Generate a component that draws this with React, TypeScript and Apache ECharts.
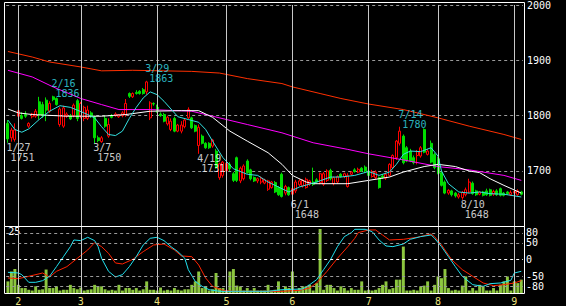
import React, { useEffect, useRef } from 'react';
import * as echarts from 'echarts';

// Trading days per month (2022), Jan..Sep
const months = [1, 2, 3, 4, 5, 6, 7, 8, 9];
const monthDays: number[][] = [
  [27, 28, 31],
  [1, 2, 3, 4, 7, 8, 9, 10, 14, 15, 16, 17, 18, 21, 22, 24, 25, 28],
  [1, 2, 3, 4, 7, 8, 9, 10, 11, 14, 15, 16, 17, 18, 22, 23, 24, 25, 28, 29, 30, 31],
  [1, 4, 5, 6, 7, 8, 11, 12, 13, 14, 15, 18, 19, 20, 21, 22, 25, 26, 27, 28],
  [2, 6, 9, 10, 11, 12, 13, 16, 17, 18, 19, 20, 23, 24, 25, 26, 27, 30, 31],
  [1, 2, 3, 6, 7, 8, 9, 10, 13, 14, 15, 16, 17, 20, 21, 22, 23, 24, 27, 28, 29, 30],
  [1, 4, 5, 6, 7, 8, 11, 12, 13, 14, 15, 19, 20, 21, 22, 25, 26, 27, 28, 29],
  [1, 2, 3, 4, 5, 8, 9, 10, 12, 15, 16, 17, 18, 19, 22, 23, 24, 25, 26, 29, 30, 31],
  [1, 2, 5],
];

// [open, close, low, high]
const candles: number[][] = [
  [1786, 1758, 1751, 1792], [1760, 1774, 1753, 1778], [1757, 1774, 1753, 1786], [1799, 1809, 1780, 1812],
  [1800, 1795, 1793, 1806], [1802, 1799, 1796, 1808], [1781, 1786, 1778, 1788], [1798, 1803, 1795, 1805],
  [1799, 1808, 1796, 1812], [1825, 1802, 1793, 1834], [1820, 1800, 1796, 1825], [1828, 1810, 1790, 1833],
  [1808, 1822, 1805, 1826], [1834, 1829, 1826, 1836], [1831, 1820, 1818, 1833], [1784, 1812, 1780, 1815],
  [1781, 1814, 1778, 1818], [1800, 1803, 1796, 1806], [1800, 1794, 1792, 1803], [1800, 1819, 1797, 1822],
  [1827, 1795, 1790, 1830], [1800, 1822, 1795, 1825], [1795, 1815, 1790, 1818], [1795, 1810, 1792, 1818],
  [1805, 1798, 1796, 1808], [1798, 1760, 1750, 1800], [1760, 1755, 1752, 1764], [1753, 1760, 1751, 1763],
  [1795, 1781, 1778, 1800], [1763, 1784, 1760, 1795], [1800, 1797, 1795, 1803], [1800, 1803, 1798, 1806],
  [1798, 1802, 1796, 1803], [1800, 1805, 1797, 1808], [1802, 1822, 1798, 1830], [1840, 1835, 1832, 1842],
  [1834, 1840, 1832, 1842], [1842, 1840, 1838, 1846], [1844, 1840, 1838, 1846], [1847, 1840, 1838, 1850],
  [1843, 1861, 1838, 1863], [1796, 1823, 1792, 1826], [1822, 1821, 1818, 1824], [1815, 1808, 1805, 1820],
  [1803, 1800, 1798, 1806], [1802, 1790, 1788, 1805], [1785, 1797, 1782, 1800], [1775, 1790, 1772, 1795],
  [1795, 1772, 1770, 1798], [1772, 1783, 1770, 1785], [1772, 1783, 1768, 1790], [1780, 1792, 1777, 1795],
  [1796, 1811, 1794, 1815], [1796, 1778, 1776, 1798], [1782, 1772, 1770, 1784], [1746, 1779, 1731, 1784],
  [1763, 1750, 1748, 1766], [1750, 1742, 1740, 1752], [1750, 1742, 1740, 1752], [1745, 1756, 1742, 1758],
  [1736, 1706, 1704, 1740], [1688, 1713, 1684, 1715], [1692, 1716, 1688, 1718], [1700, 1714, 1696, 1718],
  [1712, 1704, 1700, 1716], [1695, 1683, 1680, 1698], [1724, 1683, 1680, 1726], [1682, 1705, 1678, 1708],
  [1686, 1709, 1683, 1712], [1718, 1697, 1695, 1721], [1702, 1686, 1683, 1704], [1688, 1682, 1680, 1690],
  [1682, 1686, 1678, 1688], [1680, 1687, 1676, 1690], [1678, 1684, 1676, 1686], [1667, 1682, 1664, 1684],
  [1670, 1680, 1668, 1682], [1679, 1662, 1660, 1682], [1670, 1657, 1655, 1673], [1694, 1654, 1652, 1697],
  [1660, 1672, 1656, 1675], [1670, 1657, 1655, 1672], [1658, 1668, 1648, 1672], [1664, 1680, 1660, 1684],
  [1675, 1682, 1672, 1685], [1673, 1683, 1670, 1685], [1670, 1685, 1668, 1688], [1676, 1682, 1673, 1684],
  [1680, 1676, 1673, 1706], [1684, 1680, 1678, 1687], [1679, 1695, 1676, 1697], [1676, 1695, 1673, 1698],
  [1683, 1700, 1680, 1703], [1701, 1686, 1683, 1704], [1677, 1688, 1674, 1690], [1680, 1690, 1677, 1692],
  [1694, 1690, 1688, 1696], [1690, 1695, 1687, 1697], [1672, 1692, 1670, 1696], [1694, 1698, 1692, 1700],
  [1702, 1699, 1697, 1705], [1698, 1703, 1696, 1706], [1705, 1700, 1698, 1707], [1707, 1700, 1697, 1710],
  [1700, 1692, 1690, 1705], [1690, 1698, 1688, 1702], [1688, 1698, 1685, 1701], [1688, 1670, 1668, 1690],
  [1691, 1688, 1686, 1694], [1687, 1694, 1684, 1697], [1692, 1712, 1690, 1714], [1706, 1728, 1704, 1730],
  [1724, 1754, 1720, 1756], [1750, 1772, 1746, 1780], [1763, 1715, 1712, 1766], [1742, 1718, 1716, 1745],
  [1736, 1718, 1716, 1740], [1724, 1715, 1712, 1728], [1728, 1735, 1712, 1738], [1727, 1742, 1724, 1745],
  [1775, 1734, 1732, 1777], [1730, 1736, 1728, 1740], [1750, 1716, 1714, 1755], [1730, 1706, 1703, 1733],
  [1722, 1696, 1694, 1725], [1697, 1674, 1672, 1700], [1680, 1660, 1658, 1683], [1660, 1665, 1657, 1667],
  [1664, 1657, 1654, 1666], [1660, 1655, 1652, 1662], [1653, 1657, 1650, 1660], [1652, 1661, 1648, 1664],
  [1657, 1666, 1654, 1670], [1662, 1680, 1660, 1686], [1678, 1659, 1657, 1681], [1664, 1657, 1655, 1666],
  [1658, 1662, 1656, 1664], [1662, 1656, 1654, 1664], [1664, 1657, 1655, 1668], [1666, 1656, 1654, 1668],
  [1658, 1663, 1655, 1666], [1664, 1657, 1655, 1667], [1668, 1656, 1654, 1670], [1660, 1656, 1654, 1662],
  [1662, 1659, 1657, 1664], [1657, 1661, 1655, 1665], [1660, 1663, 1657, 1666], [1657, 1664, 1655, 1667],
  [1662, 1658, 1656, 1664],
];

// volume (scale: 25 at the label)
const volumes: number[] = [
  4.7, 8.7, 9.7, 3.3, 2.0, 2.0, 1.3, 1.0, 2.7, 1.3, 1.5, 9.5, 2.0, 2.0, 2.7, 1.0, 1.3, 1.3, 3.3, 2.0,
  1.5, 2.2, 1.0, 1.3, 1.5, 3.3, 2.7, 2.7, 1.5, 1.0, 1.3, 1.0, 3.3, 1.0, 2.0, 2.0, 1.3, 2.0, 1.0, 1.5,
  4.7, 1.3, 1.3, 1.0, 2.2, 1.0, 1.3, 1.0, 2.0, 1.3, 1.0, 1.5, 1.5, 3.3, 4.7, 8.7, 2.0, 2.7, 1.0, 1.5,
  8.1, 2.0, 2.0, 1.0, 8.7, 9.7, 3.0, 2.7, 1.0, 2.0, 1.0, 2.0, 1.0, 1.0, 1.0, 3.3, 1.0, 1.3, 4.7, 1.0,
  2.7, 2.0, 8.7, 1.0, 2.0, 2.7, 2.7, 3.3, 1.0, 4.0, 25.9, 1.3, 3.3, 3.3, 2.0, 1.0, 2.7, 2.0, 1.0, 2.0,
  1.3, 1.3, 4.7, 1.0, 1.3, 1.0, 1.3, 2.0, 3.3, 4.7, 1.5, 2.0, 5.4, 5.4, 18.8, 1.0, 1.0, 1.3, 1.0, 2.7,
  3.0, 4.7, 1.0, 3.3, 6.7, 6.0, 9.7, 2.0, 1.0, 1.3, 1.0, 3.0, 6.7, 1.0, 2.0, 1.0, 3.3, 2.7, 1.0, 1.0,
  2.0, 1.0, 3.3, 4.7, 6.7, 1.0, 4.7, 4.0, 5.4,
];

// moving averages read at sample days: [dayIndex, value]
const maShort = [[0,1792],[2,1775],[4,1770],[6,1776],[9,1793],[12,1808],[15,1818],[18,1815],[20,1810],[23,1802],[25,1796],[27,1780],[29,1766],[31,1764],[33,1772],[35,1795],[37,1815],[39,1832],[41,1843],[43,1838],[45,1826],[47,1812],[49,1798],[52,1793],[55,1788],[57,1775],[59,1754],[62,1724],[65,1704],[69,1694],[72,1692],[75,1680],[78,1671],[81,1662],[84,1671],[89,1680],[93,1689],[96,1689],[100,1692],[104,1699],[107,1692],[110,1698],[112,1712],[114,1730],[116,1736],[119,1735],[122,1742],[124,1727],[125,1700],[127,1677],[130,1662],[133,1660],[136,1662],[139,1659],[143,1658],[148,1653]];
const maMid = [[0,1812],[3,1805],[7,1802],[17,1799],[27,1799],[34,1802],[41,1808],[50,1809],[55,1809],[59,1797],[64,1772],[69,1754],[75,1733],[79,1712],[82,1692],[86,1680],[88,1677],[98,1677],[104,1683],[110,1689],[114,1698],[120,1708],[124,1712],[129,1708],[133,1700],[136,1697],[139,1686],[143,1674],[148,1660]];
const maLong = [[0,1882],[7,1870],[13,1852],[21,1831],[27,1820],[32,1811],[41,1811],[53,1808],[59,1799],[69,1784],[79,1769],[88,1751],[98,1739],[104,1731],[114,1720],[124,1708],[133,1702],[143,1692],[148,1683]];
const maVeryLong = [[0,1916],[7,1906],[12,1897],[21,1888],[27,1881],[36,1882],[53,1880],[61,1877],[69,1867],[79,1858],[82,1852],[90,1840],[96,1831],[104,1821],[114,1811],[124,1796],[133,1781],[143,1766],[148,1757]];

// RCI lines (-100..100)
const rciShort = [[0,-38],[3,-40],[4,-45],[6,-68],[8,-68],[10,-63],[12,-50],[14,-21],[16,9],[18,39],[19,59],[21,57],[23,67],[25,57],[26,39],[27,4],[29,-35],[31,-52],[33,-45],[35,-21],[37,9],[39,44],[41,64],[43,67],[45,57],[47,39],[49,24],[51,4],[52,-30],[54,-65],[56,-80],[58,-90],[61,-95],[65,-95],[75,-95],[79,-90],[85,-88],[87,-75],[89,-60],[91,-30],[93,0],[95,39],[97,69],[99,81],[100,91],[103,91],[105,84],[107,59],[109,41],[111,39],[114,47],[116,61],[119,69],[122,74],[123,64],[125,39],[127,9],[129,-21],[131,-50],[134,-75],[137,-80],[139,-72],[142,-70],[145,-62],[146,-40],[148,-35]];
const rciLong = [[0,-55],[3,-57],[6,-50],[10,-40],[12,-52],[14,-35],[17,-21],[20,4],[23,29],[25,51],[27,39],[29,19],[31,-10],[33,-13],[36,1],[39,24],[42,44],[45,47],[48,29],[50,11],[53,9],[55,-16],[57,-55],[59,-80],[62,-92],[65,-95],[79,-95],[84,-92],[87,-85],[89,-70],[92,-35],[95,4],[98,39],[100,64],[101,81],[104,89],[106,89],[108,74],[110,59],[114,61],[118,67],[122,77],[123,69],[125,44],[128,-1],[131,-30],[134,-50],[137,-70],[140,-78],[143,-75],[146,-70],[148,-63]];

const highDates = ['2/16', '3/29', '7/14'];
const highValues = [1836, 1863, 1780];
const lowDates = ['1/27', '3/7', '4/19', '6/1', '8/10'];
const lowValues = [1751, 1750, 1731, 1648, 1648];

const priceTicks = [1700, 1800, 1900, 2000];
const rciTicks = [80, 50, 0, -50, -80];
const volTicks = [25];

const categories: string[] = [];
const monthStartIdx: number[] = [];
months.forEach((m, k) => {
  monthDays[k].forEach((d, j) => {
    if (j === 0 && k > 0) monthStartIdx.push(categories.length);
    categories.push(`${m}/${d}`);
  });
});

const FONT = 'DejaVu Sans Mono';
const GRID_L = 6.2;
const GRID_R = 43;

export default function App() {
  const ref = useRef<HTMLDivElement>(null);
  useEffect(() => {
    document.body.style.margin = '0';
    const chart = echarts.init(ref.current!, undefined, { renderer: 'svg' });
    const vLines = monthStartIdx.map((i) => ({ xAxis: categories[i] }));
    const labelRich = (color: string) => ({
      a: { color, fontFamily: FONT, fontSize: 10, lineHeight: 10 },
      b: { color, fontFamily: FONT, fontSize: 10, lineHeight: 10, padding: [0, 0, 0, 4] },
    });
    const plain = (v: number) => String(v);
    const option: any = {
      animation: false,
      backgroundColor: '#000',
      grid: [
        { left: GRID_L, right: GRID_R, top: 2.3, height: 224 },
        { left: GRID_L, right: GRID_R, top: 226.3, height: 67 },
      ],
      xAxis: [
        {
          type: 'category', gridIndex: 0, data: categories,
          axisLine: { show: false }, axisTick: { show: false }, axisLabel: { show: false }, splitLine: { show: false },
        },
        {
          type: 'category', gridIndex: 1, data: categories,
          axisLine: { show: false }, axisTick: { show: false }, splitLine: { show: false },
          axisLabel: {
            interval: (idx: number) => monthStartIdx.includes(idx),
            formatter: (v: string) => v.split('/')[0],
            color: '#ece27e', fontFamily: FONT, fontSize: 10, margin: 3,
          },
        },
      ],
      yAxis: [
        {
          type: 'value', gridIndex: 0, position: 'right', min: 1600, max: 2000, interval: 100,
          axisLine: { show: false }, axisTick: { show: false },
          axisLabel: {
            customValues: priceTicks, formatter: plain, color: '#fff', fontFamily: FONT, fontSize: 10, margin: 4,
            padding: [4, 0, 0, 0],
          },
          splitLine: { show: true, lineStyle: { color: '#9a9a9a', type: [3, 3], width: 1 } },
        },
        {
          type: 'value', gridIndex: 1, position: 'right', min: -100, max: 100,
          axisLine: { show: false }, axisTick: { show: false }, splitLine: { show: false },
          axisLabel: { customValues: rciTicks, formatter: plain, color: '#fff', fontFamily: FONT, fontSize: 10, margin: 3 },
        },
        {
          type: 'value', gridIndex: 1, position: 'left', min: 0, max: 27,
          axisLine: { show: false }, axisTick: { show: false }, splitLine: { show: false },
          axisLabel: { customValues: volTicks, formatter: plain, inside: true, color: '#fff', fontFamily: FONT, fontSize: 10, margin: 2 },
        },
      ],
      series: [
        {
          type: 'bar', xAxisIndex: 1, yAxisIndex: 2, data: volumes, barWidth: '85%',
          itemStyle: { color: '#8cc63f' }, z: 2,
          markLine: {
            silent: true, symbol: 'none', label: { show: false },
            lineStyle: { color: '#c8c8c8', width: 1, type: 'solid' }, data: vLines,
          },
        },
        {
          type: 'candlestick', xAxisIndex: 0, yAxisIndex: 0, data: candles, barWidth: 2.5,
          itemStyle: { color: '#000', color0: '#00dd00', borderColor: '#ff0000', borderColor0: '#00dd00', borderWidth: 1 },
          z: 2,
          markLine: {
            silent: true, symbol: 'none', label: { show: false },
            lineStyle: { color: '#c8c8c8', width: 1, type: 'solid' }, data: vLines,
          },
        },
        { type: 'line', xAxisIndex: 0, yAxisIndex: 0, data: maVeryLong, showSymbol: false, lineStyle: { color: '#ff3000', width: 1 }, z: 3 },
        { type: 'line', xAxisIndex: 0, yAxisIndex: 0, data: maLong, showSymbol: false, lineStyle: { color: '#ff00ff', width: 1 }, z: 3 },
        { type: 'line', xAxisIndex: 0, yAxisIndex: 0, data: maMid, showSymbol: false, lineStyle: { color: '#ffffff', width: 1 }, z: 3 },
        { type: 'line', xAxisIndex: 0, yAxisIndex: 0, data: maShort, showSymbol: false, lineStyle: { color: '#33e0e0', width: 1 }, z: 3 },
        {
          type: 'scatter', xAxisIndex: 0, yAxisIndex: 0, symbolSize: 1, itemStyle: { color: 'rgba(0,0,0,0)' }, z: 5,
          data: highDates.map((d, k) => ({ value: [categories.indexOf(d), highValues[k]], name: d })),
          label: {
            show: true, position: [-1, 3], align: 'left', verticalAlign: 'bottom',
            formatter: (p: any) => `{a|${p.name}}\n{b|${p.value[1]}}`, rich: labelRich('#38e0f0'),
          },
        },
        {
          type: 'scatter', xAxisIndex: 0, yAxisIndex: 0, symbolSize: 1, itemStyle: { color: 'rgba(0,0,0,0)' }, z: 5,
          data: lowDates.map((d, k) => ({ value: [categories.indexOf(d), lowValues[k]], name: d })),
          label: {
            show: true, position: [-1, 0], align: 'left', verticalAlign: 'top',
            formatter: (p: any) => `{a|${p.name}}\n{b|${p.value[1]}}`, rich: labelRich('#ffffff'),
          },
        },
        {
          type: 'line', xAxisIndex: 1, yAxisIndex: 1, data: rciLong, showSymbol: false,
          lineStyle: { color: '#ff2200', width: 1 }, z: 3,
          markLine: {
            silent: true, symbol: 'none', label: { show: false },
            data: rciTicks.map((v) => ({
              yAxis: v,
              lineStyle: { color: v === 0 ? '#ffffff' : '#9a9a9a', width: 1, type: [3, 3] },
            })),
          },
        },
        { type: 'line', xAxisIndex: 1, yAxisIndex: 1, data: rciShort, showSymbol: false, lineStyle: { color: '#22e0ee', width: 1 }, z: 4 },
      ],
      graphic: [
        { type: 'rect', z: 100, silent: true, shape: { x: 4.5, y: 2.5, width: 520, height: 224 }, style: { fill: 'none', stroke: '#fff', lineWidth: 1 } },
        { type: 'rect', z: 100, silent: true, shape: { x: 4.5, y: 226.5, width: 520, height: 67 }, style: { fill: 'none', stroke: '#fff', lineWidth: 1 } },
      ],
    };
    chart.setOption(option);
    return () => chart.dispose();
  }, []);
  return <div ref={ref} style={{ width: 566, height: 306 }} />;
}
